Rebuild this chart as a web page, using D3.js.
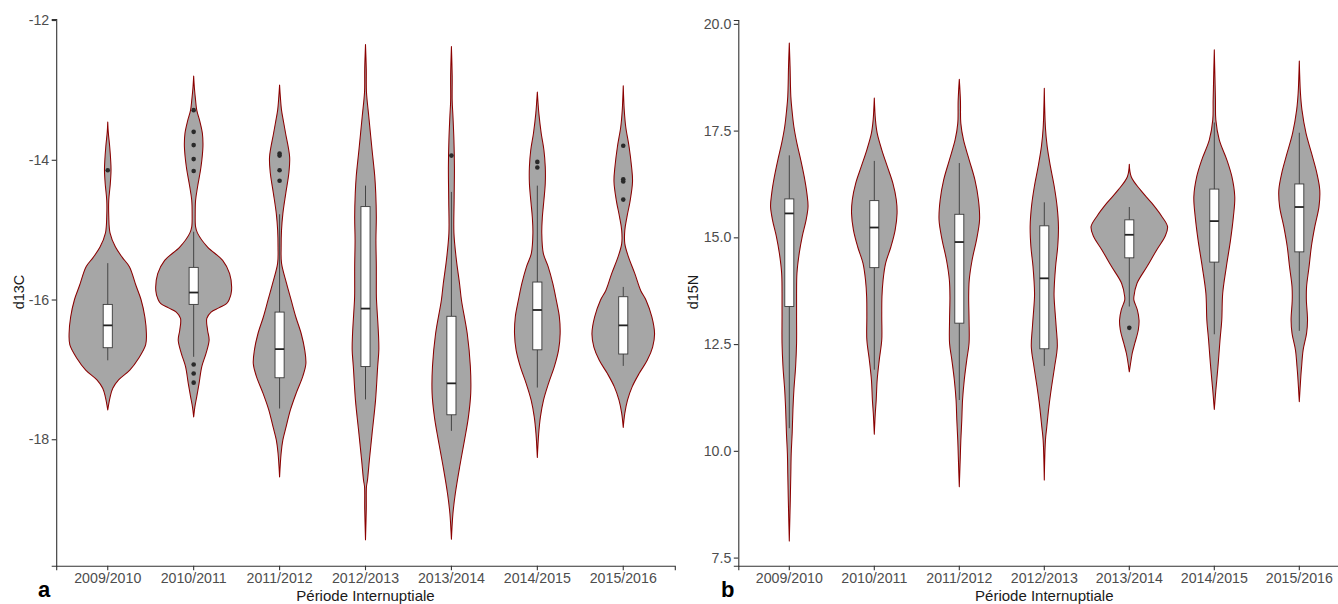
<!DOCTYPE html>
<html>
<head>
<meta charset="utf-8">
<script src="https://cdn.jsdelivr.net/npm/d3@7"></script>
<style>
  html, body { margin: 0; padding: 0; background: #fff; }
  svg { display: block; font-family: "Liberation Sans", Arial, sans-serif; }
</style>
</head>
<body>
<svg id="chart" width="1338" height="604"></svg>
<script>
// ---------------- DATA ----------------
const periods = ["2009/2010","2010/2011","2011/2012","2012/2013","2013/2014","2014/2015","2015/2016"];

const d13cTicks = [-18, -16, -14, -12];
const d15nTicks = [7.5, 10, 12.5, 15, 17.5, 20];

// violin density profiles: [value, relative half-width (1 = widest violin)]
const d13cDensity = [
  [[-13.46,0],[-13.6,0.013],[-13.81,0.05],[-14.0,0.075],[-14.15,0.085],[-14.35,0.065],[-14.58,0.026],[-14.8,0.026],[-15.05,0.06],[-15.25,0.2],[-15.4,0.38],[-15.53,0.56],[-15.8,0.73],[-16.0,0.86],[-16.25,0.96],[-16.49,1.0],[-16.65,0.98],[-16.84,0.8],[-17.01,0.57],[-17.15,0.28],[-17.27,0.13],[-17.4,0.06],[-17.58,0]],
  [[-12.8,0],[-12.98,0.02],[-13.15,0.05],[-13.29,0.08],[-13.45,0.16],[-13.62,0.225],[-13.81,0.24],[-14.1,0.19],[-14.39,0.10],[-14.58,0.05],[-14.77,0.04],[-14.96,0.05],[-15.05,0.10],[-15.25,0.36],[-15.44,0.75],[-15.63,0.93],[-15.87,0.98],[-16.0,0.92],[-16.06,0.85],[-16.12,0.65],[-16.18,0.45],[-16.27,0.34],[-16.44,0.36],[-16.58,0.40],[-16.77,0.32],[-16.96,0.21],[-17.2,0.14],[-17.39,0.08],[-17.54,0.03],[-17.68,0]],
  [[-12.93,0],[-13.1,0.02],[-13.29,0.05],[-13.45,0.10],[-13.62,0.155],[-13.96,0.26],[-14.19,0.24],[-14.48,0.16],[-14.77,0.085],[-15.01,0.05],[-15.25,0.04],[-15.48,0.05],[-15.77,0.18],[-16.01,0.30],[-16.25,0.42],[-16.49,0.56],[-16.72,0.65],[-16.92,0.68],[-17.1,0.60],[-17.34,0.43],[-17.58,0.28],[-17.82,0.17],[-18.01,0.085],[-18.2,0.04],[-18.54,0]],
  [[-12.35,0],[-12.7,0.02],[-13.03,0.025],[-13.38,0.085],[-13.86,0.17],[-14.24,0.24],[-14.48,0.265],[-14.82,0.28],[-15.15,0.27],[-15.53,0.28],[-15.91,0.28],[-16.01,0.285],[-16.49,0.335],[-16.72,0.345],[-16.96,0.315],[-17.44,0.26],[-17.92,0.17],[-18.3,0.10],[-18.59,0.05],[-18.68,0.025],[-19.0,0.02],[-19.44,0]],
  [[-12.38,0],[-12.8,0.02],[-13.15,0.02],[-13.38,0.04],[-13.72,0.065],[-14.1,0.078],[-14.58,0.07],[-15.05,0.065],[-15.44,0.13],[-15.77,0.21],[-16.01,0.26],[-16.49,0.41],[-16.96,0.49],[-17.34,0.50],[-17.68,0.44],[-18.01,0.34],[-18.39,0.215],[-18.78,0.10],[-19.06,0.04],[-19.43,0]],
  [[-13.03,0],[-13.34,0.04],[-13.62,0.10],[-13.86,0.17],[-14.1,0.205],[-14.34,0.205],[-14.58,0.17],[-14.82,0.13],[-15.05,0.115],[-15.34,0.155],[-15.53,0.28],[-15.77,0.40],[-16.01,0.49],[-16.25,0.57],[-16.49,0.59],[-16.72,0.55],[-16.96,0.44],[-17.2,0.29],[-17.44,0.16],[-17.68,0.08],[-17.92,0.035],[-18.26,0]],
  [[-12.94,0],[-13.29,0.026],[-13.53,0.065],[-13.81,0.15],[-14.1,0.215],[-14.31,0.24],[-14.58,0.18],[-14.82,0.095],[-15.01,0.04],[-15.2,0.04],[-15.39,0.135],[-15.63,0.30],[-15.87,0.45],[-16.01,0.59],[-16.25,0.74],[-16.49,0.81],[-16.68,0.76],[-16.87,0.62],[-17.06,0.41],[-17.25,0.23],[-17.44,0.11],[-17.63,0.04],[-17.83,0]]
];

const d15nDensity = [
  [[19.55,0],[19.0,0.02],[18.3,0.04],[17.98,0.07],[17.59,0.12],[17.2,0.20],[16.81,0.30],[16.42,0.39],[16.03,0.46],[15.72,0.49],[15.41,0.44],[15.03,0.34],[14.63,0.26],[14.16,0.20],[13.69,0.19],[13.14,0.19],[12.52,0.19],[11.97,0.165],[11.42,0.12],[10.96,0.095],[10.41,0.075],[9.94,0.05],[9.47,0.04],[8.85,0.026],[7.89,0]],
  [[18.26,0],[17.75,0.03],[17.44,0.075],[17.05,0.195],[16.66,0.34],[16.27,0.485],[15.88,0.575],[15.56,0.595],[15.17,0.545],[14.78,0.435],[14.39,0.295],[14.0,0.23],[13.61,0.20],[13.14,0.195],[12.6,0.195],[12.13,0.13],[11.66,0.075],[11.19,0.05],[10.88,0.026],[10.39,0]],
  [[18.7,0],[18.2,0.03],[17.67,0.04],[17.28,0.11],[16.81,0.26],[16.34,0.41],[15.88,0.50],[15.41,0.53],[14.94,0.45],[14.47,0.335],[14.0,0.26],[13.61,0.245],[13.06,0.255],[12.52,0.255],[12.13,0.195],[11.66,0.13],[11.19,0.085],[10.72,0.065],[10.25,0.04],[9.86,0.026],[9.16,0]],
  [[18.49,0],[17.56,0.03],[17.13,0.075],[16.66,0.16],[16.19,0.26],[15.72,0.335],[15.25,0.37],[14.78,0.35],[14.31,0.295],[13.69,0.255],[13.53,0.26],[12.91,0.31],[12.44,0.34],[11.97,0.27],[11.5,0.19],[11.03,0.12],[10.56,0.065],[10.25,0.03],[9.32,0]],
  [[16.71,0],[16.42,0.05],[16.11,0.29],[15.8,0.59],[15.49,0.85],[15.25,1.0],[15.03,0.94],[14.71,0.72],[14.31,0.46],[13.92,0.20],[13.61,0.12],[13.53,0.12],[13.3,0.21],[13.06,0.255],[12.83,0.235],[12.52,0.145],[12.28,0.075],[11.85,0]],
  [[19.39,0],[18.22,0.03],[17.75,0.04],[17.28,0.13],[16.81,0.33],[16.42,0.46],[15.95,0.535],[15.49,0.50],[14.94,0.425],[14.31,0.315],[13.69,0.22],[13.06,0.195],[12.6,0.15],[12.13,0.11],[11.66,0.065],[11.42,0.04],[10.97,0]],
  [[19.13,0],[18.38,0.03],[17.98,0.07],[17.44,0.175],[16.97,0.32],[16.5,0.46],[16.11,0.535],[15.72,0.515],[15.25,0.405],[14.78,0.315],[14.31,0.255],[13.84,0.19],[13.53,0.185],[13.06,0.215],[12.75,0.19],[12.36,0.10],[11.97,0.06],[11.74,0.04],[11.15,0]]
];

// box stats: [lower whisker, Q1, median, Q3, upper whisker]
const d13cBox = [
  [-16.87,-16.69,-16.37,-16.07,-15.48],
  [-16.82,-16.07,-15.90,-15.54,-15.03],
  [-17.56,-17.12,-16.71,-16.18,-14.78],
  [-17.43,-16.96,-16.13,-14.67,-14.37],
  [-17.88,-17.65,-17.20,-16.24,-14.46],
  [-17.26,-16.72,-16.15,-15.75,-14.37],
  [-16.95,-16.78,-16.37,-15.96,-15.82]
];
const d15nBox = [
  [10.53,13.38,15.56,15.90,16.92],
  [11.90,14.29,15.23,15.86,16.79],
  [11.19,12.99,14.89,15.54,16.74],
  [11.99,12.39,14.04,15.27,15.82],
  [13.38,14.52,15.06,15.41,15.71],
  [12.73,14.42,15.38,16.13,17.69],
  [12.81,14.66,15.71,16.25,17.45]
];

const d13cOutliers = [
  [-14.15],
  [-13.29,-13.60,-13.79,-13.99,-14.16,-16.93,-17.06,-17.19],
  [-13.91,-13.94,-14.15,-14.30],
  [],
  [-13.94],
  [-14.03,-14.11],
  [-13.80,-14.28,-14.31,-14.57]
];
const d15nOutliers = [[],[],[],[],[12.88],[],[]];

// ---------------- DRAW ----------------
const svg = d3.select("#chart");
svg.append("rect").attr("width",1338).attr("height",604).attr("fill","#fff");

function drawPanel(cfg) {
  const g = svg.append("g");
  const x = d3.scaleBand().domain(periods).range(cfg.xRange).paddingInner(0).paddingOuter(0.1);
  const cx = p => x(p) + x.bandwidth() / 2;
  const y = d3.scaleLinear().domain(cfg.yDomain).range([565.7, cfg.yTop]);
  const wScale = d3.scaleLinear().domain([0, 1]).range([0, 0.45 * x.step()]);
  const boxHalf = 0.053 * x.step();

  periods.forEach((p, i) => {
    const c = cx(p);
    const area = d3.area()
      .curve(d3.curveCatmullRom.alpha(0.5))
      .y(d => y(d[0]))
      .x0(d => c - wScale(d[1]))
      .x1(d => c + wScale(d[1]));
    g.append("path")
      .attr("d", area(cfg.density[i]))
      .attr("fill", "#a6a6a6")
      .attr("stroke", "#8b0000")
      .attr("stroke-width", 1.05)
      .attr("stroke-linejoin", "round");

    const b = cfg.box[i];
    g.append("line").attr("x1", c).attr("x2", c).attr("y1", y(b[4])).attr("y2", y(b[3]))
      .attr("stroke", "#3a3a3a").attr("stroke-width", 0.9);
    g.append("line").attr("x1", c).attr("x2", c).attr("y1", y(b[1])).attr("y2", y(b[0]))
      .attr("stroke", "#3a3a3a").attr("stroke-width", 0.9);
    g.append("rect")
      .attr("x", c - boxHalf).attr("width", 2 * boxHalf)
      .attr("y", y(b[3])).attr("height", y(b[1]) - y(b[3]))
      .attr("fill", "#fff").attr("stroke", "#3a3a3a").attr("stroke-width", 0.9);
    g.append("line").attr("x1", c - boxHalf).attr("x2", c + boxHalf)
      .attr("y1", y(b[2])).attr("y2", y(b[2]))
      .attr("stroke", "#222").attr("stroke-width", 1.8);
    cfg.outliers[i].forEach(v => {
      g.append("circle").attr("cx", c).attr("cy", y(v)).attr("r", 2.3).attr("fill", "#2a2a2a");
    });
  });

  const xAxis = g.append("g").attr("transform", "translate(0,565.7)")
    .call(d3.axisBottom(x).tickSizeOuter(0).tickSize(4.5).tickPadding(3));
  const yAxis = g.append("g").attr("transform", `translate(${cfg.xRange[0]},0)`)
    .call(d3.axisLeft(y).tickValues(cfg.ticks).tickFormat(cfg.fmt).tickSizeOuter(0).tickSize(4.5).tickPadding(2.5));
  [xAxis, yAxis].forEach(a => {
    a.select(".domain").attr("stroke", "#333").attr("stroke-width", 1.1);
    a.selectAll(".tick line").attr("stroke", "#333").attr("stroke-width", 1.1);
    a.selectAll(".tick text").attr("fill", "#4d4d4d").style("font-size", "14.2px")
      .style("font-family", '"Liberation Sans", Arial, sans-serif');
  });

  const xMid = (cfg.xRange[0] + cfg.xRange[1]) / 2;
  g.append("text").attr("x", xMid).attr("y", 601).attr("text-anchor", "middle")
    .style("font-size", "15px").attr("fill", "#1a1a1a").text("Période Internuptiale");
  g.append("text").attr("transform", `translate(${cfg.yTitleX},292) rotate(-90)`)
    .attr("text-anchor", "middle").style("font-size", "14.5px").attr("fill", "#1a1a1a").text(cfg.yTitle);
  g.append("text").attr("x", cfg.tagX).attr("y", 597).style("font-size", "22px")
    .style("font-weight", "bold").attr("fill", "#000").text(cfg.tag);
}

drawPanel({
  xRange: [56.2, 674.8], yDomain: [-19.81, -11.985], yTop: 19,
  density: d13cDensity, box: d13cBox, outliers: d13cOutliers,
  ticks: d13cTicks, fmt: d => String(d), yTitle: "d13C", yTitleX: 24, tag: "a", tagX: 38
});
drawPanel({
  xRange: [738.3, 1350.3], yDomain: [7.31, 20.09], yTop: 20,
  density: d15nDensity, box: d15nBox, outliers: d15nOutliers,
  ticks: d15nTicks, fmt: d3.format(".1f"), yTitle: "d15N", yTitleX: 698, tag: "b", tagX: 721
});
</script>
</body>
</html>
